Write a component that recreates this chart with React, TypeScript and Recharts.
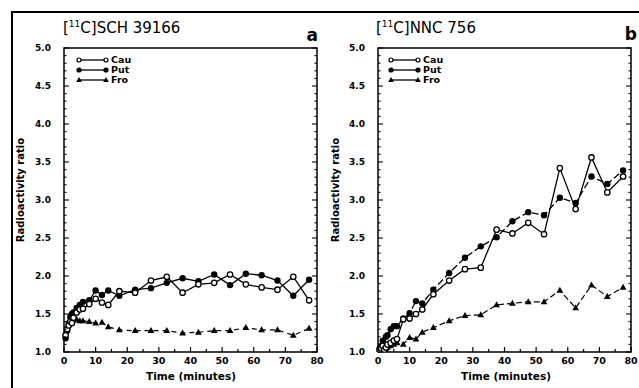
import React from 'react'
import { LineChart, Line, XAxis, YAxis, ReferenceArea } from 'recharts'

// frame times (minutes)
const times = [0.5, 1, 1.5, 2, 2.5, 3, 4, 5, 6, 8, 10, 12, 14, 17.5, 22.5, 27.5, 32.5, 37.5, 42.5, 47.5, 52.5, 57.5, 62.5, 67.5, 72.5, 77.5]

// panel a: [11C]SCH 39166
const schCau = [1.22, 1.3, 1.35, 1.4, 1.38, 1.45, 1.52, 1.56, 1.57, 1.63, 1.7, 1.65, 1.62, 1.8, 1.78, 1.94, 1.99, 1.78, 1.89, 1.91, 2.02, 1.89, 1.85, 1.82, 1.99, 1.68]
const schPut = [1.18, 1.28, 1.38, 1.46, 1.5, 1.52, 1.58, 1.62, 1.66, 1.68, 1.81, 1.75, 1.81, 1.74, 1.82, 1.84, 1.91, 1.97, 1.93, 2.02, 1.88, 2.03, 2.01, 1.94, 1.74, 1.95]
const schFro = [1.25, 1.32, 1.38, 1.4, 1.42, 1.42, 1.43, 1.41, 1.41, 1.4, 1.38, 1.39, 1.33, 1.29, 1.28, 1.28, 1.28, 1.25, 1.26, 1.28, 1.28, 1.32, 1.29, 1.29, 1.22, 1.31]

// panel b: [11C]NNC 756
const nncCau = [1.02, 1.05, 1.08, 1.03, 1.06, 1.1, 1.12, 1.15, 1.17, 1.43, 1.44, 1.5, 1.56, 1.76, 1.94, 2.09, 2.11, 2.61, 2.56, 2.7, 2.55, 3.42, 2.88, 3.56, 3.1, 3.31]
const nncPut = [1.05, 1.08, 1.15, 1.1, 1.2, 1.22, 1.3, 1.34, 1.34, 1.44, 1.51, 1.67, 1.64, 1.82, 2.04, 2.24, 2.39, 2.51, 2.72, 2.84, 2.8, 3.03, 2.96, 3.31, 3.21, 3.39]
const nncFro = [1.02, 1.03, 1.05, 1.02, 1.04, 1.06, 1.08, 1.1, 1.12, 1.1, 1.19, 1.17, 1.26, 1.32, 1.41, 1.48, 1.49, 1.62, 1.64, 1.66, 1.66, 1.81, 1.58, 1.88, 1.73, 1.85]

const xTicks = [0, 5, 10, 15, 20, 25, 30, 35, 40, 45, 50, 55, 60, 65, 70, 75, 80]
const yTicks = [
  1.0, 1.1, 1.2, 1.3, 1.4, 1.5, 1.6, 1.7, 1.8, 1.9, 2.0, 2.1, 2.2, 2.3, 2.4, 2.5, 2.6, 2.7, 2.8, 2.9, 3.0,
  3.1, 3.2, 3.3, 3.4, 3.5, 3.6, 3.7, 3.8, 3.9, 4.0, 4.1, 4.2, 4.3, 4.4, 4.5, 4.6, 4.7, 4.8, 4.9, 5.0,
]

const FONT = '"DejaVu Sans", sans-serif'
const CH_W = 330
const CH_H = 388
const TOP = 48
const BOTTOM = 352

const openDot = (p: any) => (
  <circle key={`o${p.index}`} cx={p.cx} cy={p.cy} r={2.7} fill="#fff" stroke="#000" strokeWidth={1.3} />
)
const fillDot = (p: any) => <circle key={`f${p.index}`} cx={p.cx} cy={p.cy} r={3.2} fill="#000" />
const triDot = (p: any) => (
  <polygon
    key={`t${p.index}`}
    points={`${p.cx},${p.cy - 3.6} ${p.cx - 3.4},${p.cy + 2.4} ${p.cx + 3.4},${p.cy + 2.4}`}
    fill="#000"
  />
)

function makeXTick() {
  return (props: any) => {
    const v = props.payload.value
    const major = v % 10 === 0
    return (
      <g>
        <line x1={props.x} x2={props.x} y1={BOTTOM} y2={BOTTOM - (major ? 5 : 3)} stroke="#000" strokeWidth={1.2} />
        {major && (
          <text x={props.x} y={BOTTOM + 12} textAnchor="middle" fontSize={9.5} fontWeight="bold" fontFamily={FONT} fill="#000">
            {v}
          </text>
        )}
      </g>
    )
  }
}

function makeYTick(left: number, right: number) {
  return (props: any) => {
    const v = props.payload.value
    const major = Math.abs(v * 2 - Math.round(v * 2)) < 1e-6
    const len = major ? 5 : 2.5
    return (
      <g>
        <line x1={left} x2={left + len} y1={props.y} y2={props.y} stroke="#000" strokeWidth={1.1} />
        <line x1={right} x2={right - len} y1={props.y} y2={props.y} stroke="#000" strokeWidth={1.1} />
        {major && (
          <text x={left - 13} y={props.y} dy={3} textAnchor="end" fontSize={9} fontWeight="bold" fontFamily={FONT} fill="#000">
            {v.toFixed(1)}
          </text>
        )}
      </g>
    )
  }
}

interface PanelProps {
  cau: number[]
  put: number[]
  fro: number[]
  plotLeft: number
  plotRight: number
  putDash?: string
  froDash: string
}

function Panel({ cau, put, fro, plotLeft, plotRight, putDash, froDash }: PanelProps) {
  const data = times.map((t, i) => ({ t, cau: cau[i], put: put[i], fro: fro[i] }))
  const yW = 30
  return (
    <LineChart
      width={CH_W}
      height={CH_H}
      data={data}
      margin={{ top: TOP, right: CH_W - plotRight, bottom: 16, left: plotLeft - yW }}
    >
      <XAxis
        dataKey="t"
        type="number"
        domain={[0, 80]}
        ticks={xTicks}
        interval={0}
        height={CH_H - BOTTOM - 16}
        axisLine={false}
        tickLine={false}
        tick={makeXTick()}
      />
      <YAxis
        type="number"
        domain={[1, 5]}
        ticks={yTicks}
        interval={0}
        width={yW}
        axisLine={false}
        tickLine={false}
        allowDataOverflow
        tick={makeYTick(plotLeft, plotRight)}
      />
      <ReferenceArea x1={0} x2={80} y1={1} y2={5} fill="none" stroke="#000" strokeWidth={1.5} strokeOpacity={1} />
      <Line dataKey="fro" stroke="#000" strokeWidth={1.2} strokeDasharray={froDash} dot={triDot} isAnimationActive={false} />
      <Line dataKey="put" stroke="#000" strokeWidth={1.3} strokeDasharray={putDash} dot={fillDot} isAnimationActive={false} />
      <Line dataKey="cau" stroke="#000" strokeWidth={1.3} dot={openDot} isAnimationActive={false} />
    </LineChart>
  )
}

function LegendKey({ x, y }: { x: number; y: number }) {
  const rows = [
    { label: 'Cau', kind: 'open' },
    { label: 'Put', kind: 'fill' },
    { label: 'Fro', kind: 'tri' },
  ]
  return (
    <g>
      {rows.map((r, i) => {
        const cy = y + i * 10
        const mk = (cx: number) =>
          r.kind === 'open' ? (
            <circle cx={cx} cy={cy} r={2} fill="#fff" stroke="#000" strokeWidth={1.2} />
          ) : r.kind === 'fill' ? (
            <circle cx={cx} cy={cy} r={2.6} fill="#000" />
          ) : (
            <polygon points={`${cx},${cy - 3} ${cx - 2.8},${cy + 2} ${cx + 2.8},${cy + 2}`} fill="#000" />
          )
        return (
          <g key={r.label}>
            <line x1={x} x2={x + 27} y1={cy} y2={cy} stroke="#000" strokeWidth={1.3} />
            {mk(x)}
            {mk(x + 27)}
            <text x={x + 32} y={cy + 3.3} fontSize={9.5} fontWeight="bold" fontFamily={FONT} fill="#000">
              {r.label}
            </text>
          </g>
        )
      })}
    </g>
  )
}

export default function App() {
  const titleStyle: React.CSSProperties = {
    position: 'absolute',
    top: 19,
    fontFamily: FONT,
    fontSize: 15,
    color: '#000',
    whiteSpace: 'nowrap',
  }
  return (
    <div style={{ position: 'absolute', left: 0, top: 0, width: 639, height: 388, background: '#fff', overflow: 'hidden' }}>
      <div
        style={{
          position: 'absolute',
          left: 11,
          top: 11,
          width: 640,
          height: 400,
          border: '2px solid #000',
          boxSizing: 'border-box',
        }}
      />
      <div style={{ position: 'absolute', left: 0, top: 0 }}>
        <Panel cau={schCau} put={schPut} fro={schFro} plotLeft={64} plotRight={317} froDash="5 4" />
      </div>
      <div style={{ position: 'absolute', left: 319, top: 0 }}>
        <Panel cau={nncCau} put={nncPut} fro={nncFro} plotLeft={59} plotRight={312} putDash="7 3" froDash="6 3" />
      </div>
      <div style={{ ...titleStyle, left: 63 }}>
        [<sup style={{ fontSize: 9 }}>11</sup>C]SCH 39166
      </div>
      <div style={{ ...titleStyle, left: 376 }}>
        [<sup style={{ fontSize: 9 }}>11</sup>C]NNC 756
      </div>
      <svg width={639} height={388} style={{ position: 'absolute', left: 0, top: 0, pointerEvents: 'none' }}>
        <text x={318} y={41} textAnchor="end" fontSize={17} fontWeight="900" fontFamily={FONT} fill="#000">a</text>
        <text x={637} y={40} textAnchor="end" fontSize={17} fontWeight="900" fontFamily={FONT} fill="#000">b</text>
        <LegendKey x={79} y={60} />
        <LegendKey x={391} y={60} />
        <text transform="translate(24,190) rotate(-90)" textAnchor="middle" fontSize={10} fontWeight="bold" fontFamily={FONT} fill="#000">
          Radioactivity ratio
        </text>
        <text transform="translate(339,190) rotate(-90)" textAnchor="middle" fontSize={10} fontWeight="bold" fontFamily={FONT} fill="#000">
          Radioactivity ratio
        </text>
        <text x={191} y={380} textAnchor="middle" fontSize={10.5} fontWeight="bold" fontFamily={FONT} fill="#000">
          Time (minutes)
        </text>
        <text x={506} y={380} textAnchor="middle" fontSize={10.5} fontWeight="bold" fontFamily={FONT} fill="#000">
          Time (minutes)
        </text>
      </svg>
    </div>
  )
}
